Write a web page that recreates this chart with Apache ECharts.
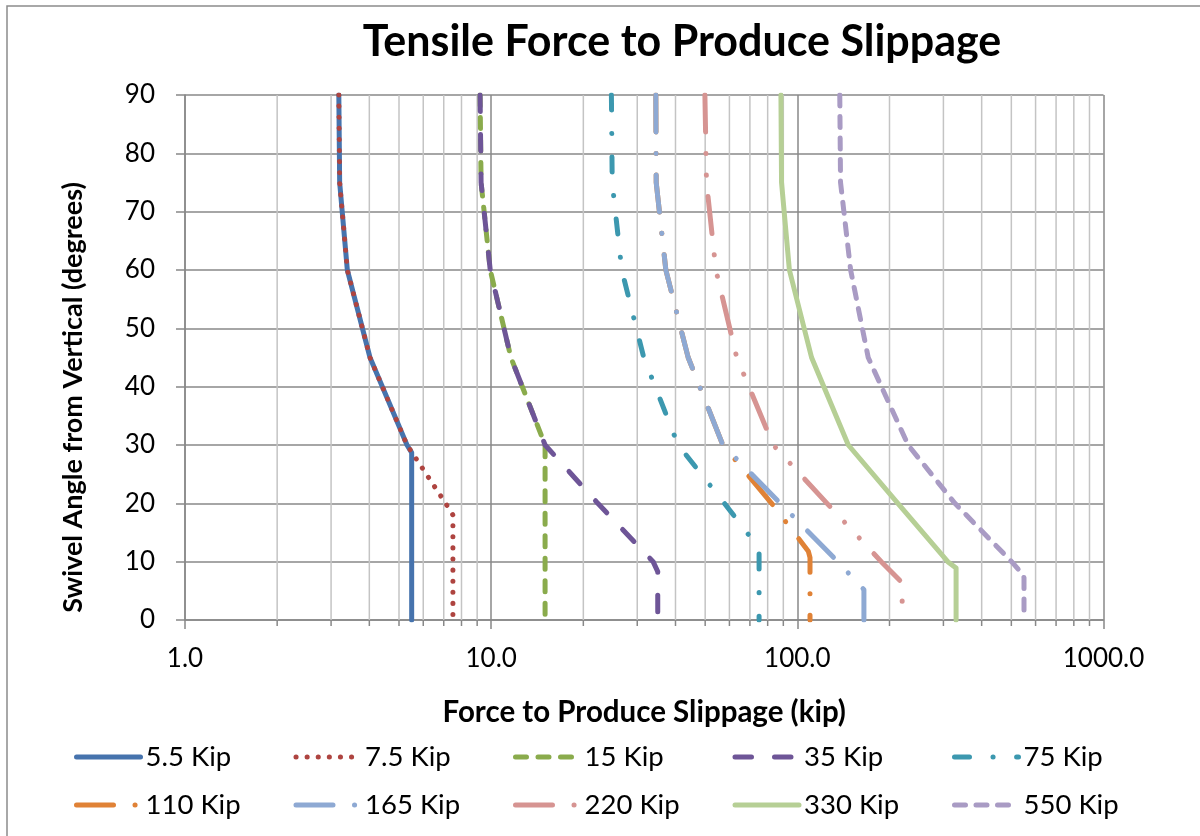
<!DOCTYPE html>
<html>
<head>
<meta charset="utf-8">
<script src="https://cdn.jsdelivr.net/npm/echarts@6/dist/echarts.min.js"></script>
<style>
html,body{margin:0;padding:0;background:#fff;}
#chart{width:1200px;height:836px;}
</style>
</head>
<body>
<div id="chart"></div>
<script>
// ---- data (force in kip, swivel angle in degrees) ----
const seriesNames = ['5.5 Kip','7.5 Kip','15 Kip','35 Kip','75 Kip','110 Kip','165 Kip','220 Kip','330 Kip','550 Kip'];
const s5_5  = [[3.18,90],[3.2,75],[3.39,60],[4.02,45],[5.31,30],[5.5,28.7],[5.5,0]];
const s7_5  = [[3.18,90],[3.2,75],[3.39,60],[4.02,45],[5.31,30],[7.1,20],[7.5,18],[7.5,0]];
const s15   = [[9.2,90],[9.27,75],[9.93,60],[11.6,45],[15,30],[15,0]];
const s35   = [[9.2,90],[9.27,75],[9.93,60],[11.6,45],[15,30],[22.3,20],[33.8,10],[35,8.3],[35,0]];
const s75   = [[24.7,90],[24.85,75],[26.7,60],[31.5,45],[40.8,30],[57.8,20],[72.7,13.2],[75,12.3],[75,0]];
const s110  = [[34.5,90],[34.6,75],[37.2,60],[44,45],[57.1,30],[82.4,20],[108.6,11.8],[110,10.7],[110,0]];
const s165  = [[34.5,90],[34.6,75],[37.2,60],[44,45],[57.1,30],[88,20],[135.5,10],[158,6.25],[165,5.2],[165,0]];
const s220  = [[49.9,90],[50.5,75],[54.2,60],[63.4,45],[83.4,30],[125,20],[188,10],[217,6.7],[220,6.1],[220,0]];
const s330  = [[88.4,90],[88.8,75],[94.2,60],[111.3,45],[146.7,30],[213,20],[310,10],[330,8.9],[330,0]];
const s550  = [[137.6,90],[138.4,75],[149.3,60],[170.4,45],[230,30],[327,20],[501,10],[548,7.7],[550,7.2],[550,0]];
const xTickLabels = ['1.0','10.0','100.0','1000.0'];
const yTickValues = [0,10,20,30,40,50,60,70,80,90];
const minorGridValues = [2,3,4,5,6,7,8,9,20,30,40,50,60,70,80,90,200,300,400,500,600,700,800,900];

const allData = [s5_5,s7_5,s15,s35,s75,s110,s165,s220,s330,s550];
const colors = ['#4673AD','#AE4440','#8AAB4C','#6E5597','#3C98AF','#E08236','#8EA9D3','#D69492','#B6CF95','#A99BC4'];
const dashes = ['solid',[0.1,11],[11,11.5],[16.5,23],[15,23.5,0.1,23.5],[37,21.5,0.1,21.5],[37,21.5,0.1,21.5],[37,21.5,0.1,21.5,0.1,21.5],'solid',[11,10.5]];

const FONT = 'Lato';
const chart = echarts.init(document.getElementById('chart'), null, {renderer:'canvas'});

const lineSeries = seriesNames.map((name,i)=>({
  name: name,
  type: 'line',
  data: allData[i],
  color: colors[i],
  symbol: 'none',
  showSymbol: false,
  silent: true,
  animation: false,
  emphasis: {disabled: true},
  z: 3,
  lineStyle: {color: colors[i], width: 5, type: dashes[i], cap: 'round', join: 'round'}
}));

const minorSeries = {
  type: 'custom',
  silent: true,
  animation: false,
  z: 1,
  clip: false,
  data: minorGridValues.map(v=>[v,0]),
  encode: {x:0, y:1},
  renderItem: function(params, api){
    const v = api.value(0);
    const top = api.coord([v, 90]);
    const bot = api.coord([v, 0]);
    return {type:'group', children:[
      {type:'line', shape:{x1:top[0],y1:top[1],x2:bot[0],y2:bot[1]}, style:{stroke:'#c4c4c4', lineWidth:1.5}},
      {type:'line', shape:{x1:bot[0],y1:bot[1],x2:bot[0],y2:bot[1]+6}, style:{stroke:'#888888', lineWidth:1.5}}
    ]};
  }
};

const option = {
  backgroundColor: '#ffffff',
  animation: false,
  tooltip: {show:false},
  graphic: [
    {type:'rect', shape:{x:7, y:6, width:1210, height:850}, style:{fill:'none', stroke:'#8c8c8c', lineWidth:1.5}, silent:true},
    {type:'text', x:682, y:42, silent:true,
     style:{text:'Tensile Force to Produce Slippage', font:'bold 43px Lato', fill:'#000', align:'center', verticalAlign:'middle'}}
  ],
  grid: {left:185, right:96.5, top:95, bottom:216, containLabel:false, outerBoundsMode:'none'},
  xAxis: {
    type: 'log', logBase: 10, min: 1, max: 1000,
    name: 'Force to Produce Slippage (kip)',
    nameLocation: 'middle', nameGap: 77, nameMoveOverlap: false,
    nameTextStyle: {fontFamily:FONT, fontWeight:'bold', fontSize:29.5, color:'#000'},
    axisLine: {show:true, lineStyle:{color:'#888888', width:1.5}},
    axisTick: {show:true, inside:false, length:9, lineStyle:{color:'#888888', width:1.5}},
    axisLabel: {show:true, margin:26, fontFamily:FONT, fontSize:26, color:'#000',
      formatter: v => xTickLabels[Math.round(Math.log10(v))]},
    splitLine: {show:true, lineStyle:{color:'#888888', width:1.5}},
    minorTick: {show:false}, minorSplitLine: {show:false}
  },
  yAxis: {
    type: 'value', min: 0, max: 90, interval: 10,
    name: 'Swivel Angle from Vertical (degrees)',
    nameLocation: 'middle', nameGap: 98, nameMoveOverlap: false,
    nameTextStyle: {fontFamily:FONT, fontWeight:'bold', fontSize:27, color:'#000', padding:[0,80,0,0]},
    axisLine: {show:true, lineStyle:{color:'#888888', width:1.5}},
    axisTick: {show:true, inside:false, length:9, lineStyle:{color:'#888888', width:1.5}},
    axisLabel: {show:true, margin:30, fontFamily:FONT, fontSize:26, color:'#000',
      formatter: v => String(yTickValues[yTickValues.indexOf(v)])},
    splitLine: {show:true, lineStyle:{color:'#888888', width:1.5}}
  },
  legend: {
    show: true,
    data: seriesNames,
    left: 74, top: 733, width: 1150,
    padding: 0, itemGap: 0,
    itemWidth: 64, itemHeight: 10,
    selectedMode: false,
    lineStyle: {width: 5},
    itemStyle: {opacity: 0},
    formatter: name => '{t|' + name + '}',
    textStyle: {fontFamily:FONT, fontSize:27.5, color:'#000',
      rich: {t: {width:148, height:48, lineHeight:48, fontFamily:FONT, fontSize:27.5, color:'#000'}}}
  },
  series: lineSeries.concat([minorSeries])
};
chart.setOption(option);
</script>
</body>
</html>
